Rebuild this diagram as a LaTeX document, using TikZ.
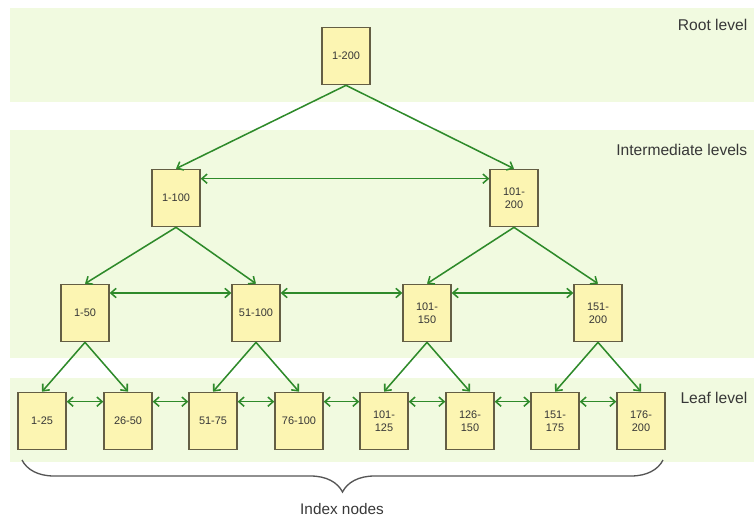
\documentclass[tikz,border=0pt]{standalone}
\usepackage{fontspec}
\setmainfont{Liberation Sans}
\usetikzlibrary{arrows.meta,decorations.pathreplacing}
\definecolor{bandgreen}{RGB}{241,250,224}
\definecolor{boxfill}{RGB}{252,245,178}
\definecolor{boxline}{RGB}{100,94,68}
\definecolor{linkgreen}{RGB}{46,138,42}
\definecolor{txt}{RGB}{55,55,55}
\tikzset{
    idx/.style={draw=boxline, fill=boxfill, line width=1pt, minimum width=36pt, minimum height=43pt,
        inner sep=1pt, align=center, font=\fontsize{8.2}{9.8}\selectfont, text=txt},
    link/.style={draw=linkgreen, line width=1.15pt, -{Straight Barb[length=4pt,width=7pt]}},
    twoway/.style={link, {Straight Barb[length=4pt,width=7pt]}-{Straight Barb[length=4pt,width=7pt]}},
    lvl/.style={anchor=east, font=\fontsize{11.7}{14}\selectfont, text=txt}
}
\begin{document}
\begin{tikzpicture}[x=0.75pt,y=-0.75pt]
            \useasboundingbox (0,0) rectangle (754,518);
            % level bands
            \fill[bandgreen] (10,8) rectangle (754,102);
            \fill[bandgreen] (10,130) rectangle (754,358);
            \fill[bandgreen] (10,378) rectangle (754,462);
            \node[lvl] (lroot) at (752,25) {Root level};
            \node[lvl] (lmid) at (752,150) {Intermediate levels};
            \node[lvl] (lleaf) at (752,398) {Leaf level};
            % index nodes
            \node[idx] (r) at (346,56) {1-200};
            \node[idx] (a1) at (176,198) {1-100};
            \node[idx] (a2) at (514,198) {101-\\200};
            \node[idx] (b1) at (85,313) {1-50};
            \node[idx] (b2) at (256,313) {51-100};
            \node[idx] (b3) at (427,313) {101-\\150};
            \node[idx] (b4) at (598,313) {151-\\200};
            \node[idx] (c1) at (42,421) {1-25};
            \node[idx] (c2) at (128,421) {26-50};
            \node[idx] (c3) at (213,421) {51-75};
            \node[idx] (c4) at (299,421) {76-100};
            \node[idx] (c5) at (384,421) {101-\\125};
            \node[idx] (c6) at (470,421) {126-\\150};
            \node[idx] (c7) at (555,421) {151-\\175};
            \node[idx] (c8) at (641,421) {176-\\200};
            % parent to child
            \draw[link] (r.south) -- (a1.north);
            \draw[link] (r.south) -- (a2.north);
            \draw[link] (a1.south) -- (b1.north);
            \draw[link] (a1.south) -- (b2.north);
            \draw[link] (a2.south) -- (b3.north);
            \draw[link] (a2.south) -- (b4.north);
            \draw[link] (b1.south) -- (c1.north);
            \draw[link] (b1.south) -- (c2.north);
            \draw[link] (b2.south) -- (c3.north);
            \draw[link] (b2.south) -- (c4.north);
            \draw[link] (b3.south) -- (c5.north);
            \draw[link] (b3.south) -- (c6.north);
            \draw[link] (b4.south) -- (c7.north);
            \draw[link] (b4.south) -- (c8.north);
            % siblings
            \draw[twoway] ([yshift=-7.5pt]a1.north east) -- ([yshift=-7.5pt]a2.north west);
            \draw[twoway] ([yshift=-7pt]b1.north east) -- ([yshift=-7pt]b2.north west);
            \draw[twoway] ([yshift=-7pt]b2.north east) -- ([yshift=-7pt]b3.north west);
            \draw[twoway] ([yshift=-7pt]b3.north east) -- ([yshift=-7pt]b4.north west);
            \draw[twoway] ([yshift=-7.5pt]c1.north east) -- ([yshift=-7.5pt]c2.north west);
            \draw[twoway] ([yshift=-7.5pt]c2.north east) -- ([yshift=-7.5pt]c3.north west);
            \draw[twoway] ([yshift=-7.5pt]c3.north east) -- ([yshift=-7.5pt]c4.north west);
            \draw[twoway] ([yshift=-7.5pt]c4.north east) -- ([yshift=-7.5pt]c5.north west);
            \draw[twoway] ([yshift=-7.5pt]c5.north east) -- ([yshift=-7.5pt]c6.north west);
            \draw[twoway] ([yshift=-7.5pt]c6.north east) -- ([yshift=-7.5pt]c7.north west);
            \draw[twoway] ([yshift=-7.5pt]c7.north east) -- ([yshift=-7.5pt]c8.north west);
            % brace
            \draw[decorate, decoration={brace, mirror, amplitude=24pt}, line width=1pt, draw=txt!85]
                (22,460) -- (663,460);
            \node[font=\fontsize{11.5}{13}\selectfont, text=txt, inner sep=1pt] (inx) at (342,509) {Index nodes};
\end{tikzpicture}
\end{document}
